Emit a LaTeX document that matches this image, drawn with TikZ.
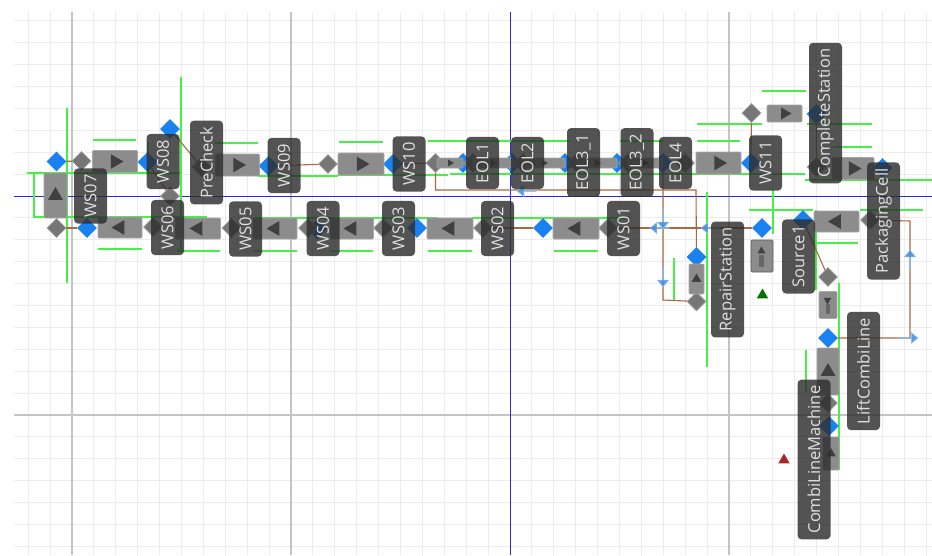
\documentclass[tikz,border=0pt]{standalone}
\usepackage{xcolor}
\usepackage{fontspec}
\setmainfont{Open Sans}
\usetikzlibrary{shapes.geometric, shapes.arrows}
\definecolor{gridLight}{RGB}{236, 236, 236}
\definecolor{gridMajor}{RGB}{196, 196, 196}
\definecolor{axisBlue}{RGB}{40, 40, 225}
\definecolor{limeGreen}{RGB}{70, 240, 70}
\definecolor{linkBrown}{RGB}{170, 105, 65}
\definecolor{portBlue}{RGB}{25, 130, 240}
\definecolor{portGray}{RGB}{118, 118, 118}
\definecolor{beltGray}{RGB}{140, 140, 140}
\definecolor{labelDark}{RGB}{45, 45, 45}
\definecolor{flowBlue}{RGB}{70, 145, 225}

\begin{document}
\begin{tikzpicture}[
    x=1pt, y=-1pt,
    portin/.style={
        diamond,
        aspect=1,
        inner sep=0pt,
        minimum size=20pt,
        fill=portBlue
    },
    portout/.style={
        diamond,
        aspect=1,
        inner sep=0pt,
        minimum size=19pt,
        fill=portGray,
        draw=gray!75,
        line width=0.8pt
    },
    belt/.style={
        rectangle,
        rounded corners=1pt,
        inner sep=0pt,
        fill=beltGray,
        draw=gray!70,
        line width=0.6pt
    },
    tip/.style={
        regular polygon,
        regular polygon sides=3,
        inner sep=0pt,
        fill=black!80,
        fill opacity=0.85
    },
    flow/.style={
        single arrow,
        single arrow head extend=2.5pt,
        single arrow tip angle=80,
        inner sep=0pt,
        minimum width=11pt,
        minimum height=19pt,
        fill=flowBlue,
        draw=flowBlue!55,
        line width=0.5pt,
        fill opacity=0.9
    },
    tag/.style={
        rectangle,
        rounded corners=4pt,
        rotate=90,
        minimum height=33pt,
        inner xsep=6pt,
        inner ysep=0pt,
        font=\fontsize{16.5}{18}\selectfont,
        text=white!88!black,
        fill=labelDark,
        fill opacity=0.82,
        text opacity=1
    },
    link/.style={
        color=linkBrown,
        line width=1.1pt
    },
    guide/.style={
        color=limeGreen,
        line width=1.1pt
    }
]

\useasboundingbox (0,0) rectangle (932,555);

% Grid
\foreach \k in {-2,...,39} \draw[gridLight, line width=0.9pt] ({72+21.9*\k},12) -- ({72+21.9*\k},555);
\foreach \k in {-8,...,16} \draw[gridLight, line width=0.9pt] (14,{196+21.9*\k}) -- (932,{196+21.9*\k});
\foreach \x in {72,291,729} \draw[gridMajor, line width=1.2pt] (\x,12) -- (\x,555);
\draw[gridMajor, line width=1.2pt] (14,415) -- (932,415);
\draw[axisBlue, line width=1pt] (510,12) -- (510,555);
\draw[axisBlue, line width=1pt] (14,196) -- (932,196);

% Green guides, horizontal
\foreach \xa/\xb/\y in {93/136/140, 98/142/249, 27/180/173, 33/207/217, 177/220/251, 215/258/143,
    258/338/176, 253/438/218, 253/297/251, 339/383/142, 338/448/175, 428/570/141, 472/630/218,
    330/373/251, 428/472/251, 554/598/251, 450/805/174, 697/762/124, 762/806/91, 807/872/124,
    697/740/141, 620/663/141, 833/872/147, 805/932/180, 749/813/210, 860/923/210, 815/858/243}
    \draw[guide] (\xa,\y) -- (\xb,\y);

% Green guides, vertical
\foreach \x/\ya/\yb in {67/108/283, 34/173/217, 148/142/172, 181/77/250, 773/190/234,
    707/192/367, 674/258/300, 816/210/290, 839/283/470, 806/350/393}
    \draw[guide] (\x,\ya) -- (\x,\yb);

% Ports
\foreach \nm/\x/\y in {inA/56.5/161.5, inB/87/228, inC/147.5/162, inD/170/129, inE/268.5/166,
    inF/317/229, inG/417/228, inH/543/228, inI/393/164, inJ/463/163, inK/512/163, inL/565/163,
    inM/617/163, inN/663/163, inO/751/163, inP/816.5/114, inQ/882.5/168, inR/696.5/257,
    inS/762/228, inT/803/220, inU/828/338, inV/829/426}
    \node[portin] (\nm) at (\x,\y) {};
\foreach \nm/\x/\y in {outA/56.5/228, outB/81.5/161, outC/153/227, outD/201.5/167, outE/170/196,
    outF/231.5/228, outG/308/228, outH/383/228, outI/483/228, outJ/608/228, outK/328/164,
    outL/435.5/163, outM/473/163, outN/523/163, outO/577/163, outP/628/163, outQ/685/163,
    outR/751.5/113, outS/816.5/167, outT/696.5/301.5, outU/870/220, outV/828/277, outW/828/403}
    \node[portout] (\nm) at (\x,\y) {};

% Links
\coordinate (bendA) at (435.5,190);
\coordinate (bendB) at (696,190);
\coordinate (bendC) at (663,300);
\coordinate (bendD) at (910,221);
\coordinate (bendE) at (910,338);
\begin{scope}[on background layer/.style={}]
\draw[link] (inA) -- (outB);
\draw[link] (outA) -- (inB);
\draw[link] (inC) -- (outE);
\draw[link] (inD) -- (outD);
\draw[link] (inE) -- (outK);
\draw[link] (inI) -- (outL);
\draw[link] (outI) -- (inH);
\draw[link] (outJ) -- (inS);
\draw[link] (outL) -- (bendA) -- (bendB) -- (inR);
\draw[link] (inN) -- (bendC) -- (outT);
\draw[link] (inO) -- (outR);
\draw[link] (inP) -- (outS);
\draw[link] (outU) -- (bendD) -- (bendE) -- (inU);
\draw[link] (outV) -- (inT);
\end{scope}

% Belts: name, centre, size, direction, tip size
\foreach \nm/\x/\y/\bw/\bh/\rr/\ts in {bA/115/161.5/45/22/-90/17, bB/237.5/165/44/22/-90/17,
    bC/361/164/46/22/-90/17, bD/718.5/163/45/22/-90/17, bE/784.5/113.5/35/17/-90/14,
    bF/853/168.5/42/22/-90/17, bG/120/227.5/44/21/90/17, bH/198/228.5/45/21/90/17,
    bI/275/228.5/44/21/90/17, bJ/352/228.5/43/21/90/17, bK/450/228.5/46/21/90/17,
    bL/576/228.5/46/21/90/17, bM/836.5/221.5/45/21/90/17, bN/55.5/195.5/23/45/0/17,
    bO/696.5/279/15/30/0/11, bP/828/371.5/22/47/0/17, bQ/831/453.5/16/33/0/11,
    bR/450/163/26/10/-90/8, bS/493/163/40/10/-90/8, bT/544/163/42/10/-90/8,
    bU/597/163/40/10/-90/8, bV/645/163/35/10/-90/8}
{
    \node[belt, minimum width=\bw pt, minimum height=\bh pt] (\nm) at (\x,\y) {};
    \node[tip, minimum size=\ts pt, rotate=\rr] (t\nm) at (\x,\y) {};
}

% Lift belts with small icons
\node[belt, minimum width=22pt, minimum height=32pt, draw=black!65] (liftA) at (762,256) {};
\node[tip, minimum size=9pt] (liftAtip) at (761.5,251) {};
\node[fill=black!60, minimum width=5pt, minimum height=12pt, inner sep=0pt] (liftAstem) at (761.5,261) {};
\node[belt, minimum width=18pt, minimum height=27pt] (liftB) at (828,305) {};
\node[tip, minimum size=9pt, rotate=180] (liftBtip) at (827.5,300) {};
\node[fill=black!60, minimum width=4pt, minimum height=10pt, inner sep=0pt] (liftBstem) at (827.5,309) {};

% Flow arrows
\foreach \nm/\x/\y/\rr in {fA/663/219/-90, fB/660/228/180, fC/711/228/180, fD/663/277/-90,
    fE/910/260/90, fF/908/338/0, fG/527/191/180}
    \node[flow, rotate=\rr] (\nm) at (\x,\y) {};

% Markers
\node[regular polygon, regular polygon sides=3, inner sep=0pt, minimum size=13pt, fill=green!45!black] (markGo) at (762.5,295) {};
\node[regular polygon, regular polygon sides=3, inner sep=0pt, minimum size=13pt, fill=red!60!black!85] (markStop) at (784,460) {};

% Station labels
\node[tag] (ws07) at (90.5,196) {WS07};
\node[tag] (ws08) at (163,161.5) {WS08};
\node[tag] (pre) at (206.5,162.5) {PreCheck};
\node[tag] (ws09) at (284,165.5) {WS09};
\node[tag] (ws10) at (409,164) {WS10};
\node[tag] (eol1) at (482.5,163) {EOL1};
\node[tag] (eol2) at (527.5,163) {EOL2};
\node[tag] (eol31) at (583.5,162.5) {EOL3\_1};
\node[tag] (eol32) at (637,162.5) {EOL3\_2};
\node[tag] (eol4) at (675.5,163) {EOL4};
\node[tag] (ws11) at (765.5,163) {WS11};
\node[tag] (done) at (825.5,113) {CompleteStation};
\node[tag] (ws06) at (167.5,227.5) {WS06};
\node[tag] (ws05) at (245.5,229) {WS05};
\node[tag] (ws04) at (323,228.5) {WS04};
\node[tag] (ws03) at (398.5,228.5) {WS03};
\node[tag] (ws02) at (497.5,228.5) {WS02};
\node[tag] (ws01) at (623.5,228.5) {WS01};
\node[tag] (pack) at (883.5,221) {PackagingCell};
\node[tag] (repair) at (727.5,279.5) {RepairStation};
\node[tag] (src) at (798.5,256.5) {Source1};
\node[tag] (lift) at (863.5,371) {LiftCombiLine};
\node[tag] (combi) at (814,459.5) {CombiLineMachine};

\end{tikzpicture}
\end{document}
